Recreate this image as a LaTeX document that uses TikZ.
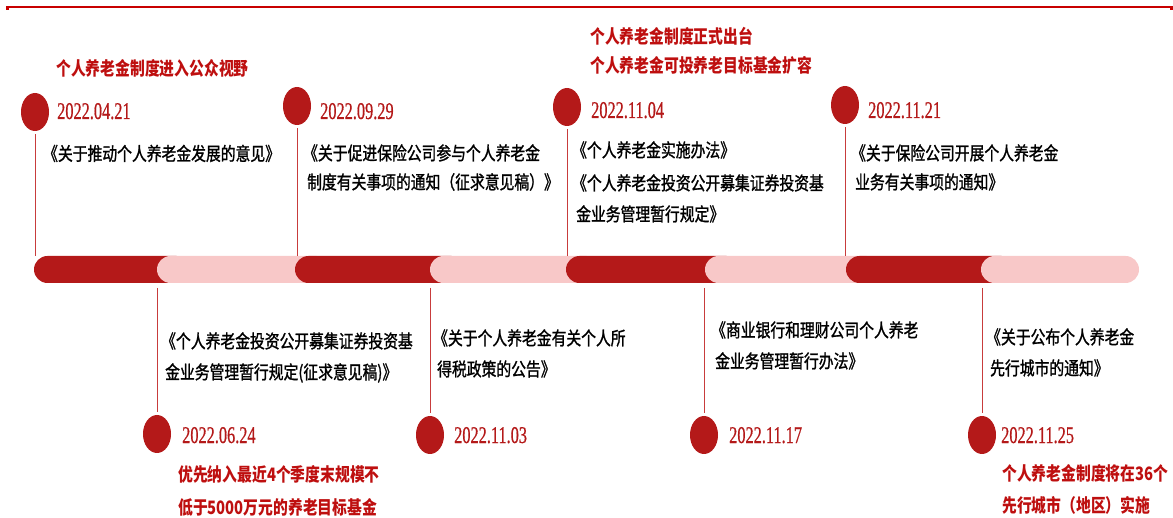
\documentclass[tikz,border=0pt]{standalone}
\usepackage{fontspec}
\usetikzlibrary{shapes.geometric}
\newfontfamily\cjk{Noto Sans CJK SC}[FakeStretch=0.8]
\newfontfamily\cjkblk{Noto Sans CJK SC}[FakeStretch=0.8, FakeBold=1.2]
\newfontfamily\datefont{Liberation Serif}[FakeStretch=0.68, FakeBold=0.6]
\definecolor{darkred}{RGB}{180,25,25}
\definecolor{pinkbar}{RGB}{248,200,200}
\definecolor{headred}{RGB}{190,15,15}
\definecolor{topred}{RGB}{200,0,0}
\definecolor{stemred}{RGB}{200,60,60}
\newcommand{\myopenq}{\hspace*{-4pt}《}
\tikzset{
  evdot/.style={ellipse, fill=darkred, draw=none, minimum width=28pt, minimum height=38pt, inner sep=0pt},
  stemline/.style={draw=stemred, line width=1pt},
  blk/.style={anchor=base west, inner sep=0pt, font=\cjkblk\fontsize{18.5}{22}\selectfont, text=black},
  hred/.style={anchor=base west, inner sep=0pt, font=\cjk\bfseries\fontsize{18.5}{22}\selectfont, text=headred},
  dt/.style={anchor=base west, inner sep=0pt, font=\datefont\fontsize{24}{28}\selectfont, text=darkred},
  seg/.style={rounded corners=13.5pt}
}
\begin{document}
\begin{tikzpicture}[x=1pt,y=-1pt]
\useasboundingbox (0,0) rectangle (1173,518);
% top rule
\draw[topred, line width=2.3pt] (6,7) -- (1173,7);
\fill[topred] (6,6) rectangle (8.7,9.7);
\fill[topred] (1169.5,6) rectangle (1173,9.7);
% bar
\fill[darkred, seg] (34,256) rectangle (190,283);
\fill[pinkbar, seg] (157,256) rectangle (330,283);
\fill[darkred, seg] (295,256) rectangle (465,283);
\fill[pinkbar, seg] (430,256) rectangle (600,283);
\fill[darkred, seg] (566,256) rectangle (740,283);
\fill[pinkbar, seg] (705,256) rectangle (880,283);
\fill[darkred, seg] (846,256) rectangle (1015,283);
\fill[pinkbar, seg] (981,256) rectangle (1139,283);
\coordinate (bartop) at (0,256);
\coordinate (barbot) at (0,288);
% circles
\node[evdot] (c1) at (35,112) {};
\node[evdot] (c2) at (297,106) {};
\node[evdot] (c3) at (567,107) {};
\node[evdot] (c4) at (845,105) {};
\node[evdot] (c5) at (157,434) {};
\node[evdot] (c6) at (430,435) {};
\node[evdot] (c7) at (704,435) {};
\node[evdot] (c8) at (982,435) {};
% stems
\foreach \c in {c1,c2,c3,c4}{\draw[stemline] ([yshift=-3pt]\c.south) -- (\c.south |- bartop);}
\foreach \c in {c5,c6,c7,c8}{\draw[stemline] (\c.north |- barbot) -- ([yshift=3pt]\c.north);}
% dates
\node[dt] (d1) at (57,119) {2022.04.21};
\node[dt] (d2) at (320,119) {2022.09.29};
\node[dt] (d3) at (591,118) {2022.11.04};
\node[dt] (d4) at (868,118) {2022.11.21};
\node[dt] (d5) at (182,443) {2022.06.24};
\node[dt] (d6) at (454,443) {2022.11.03};
\node[dt] (d7) at (729,443) {2022.11.17};
\node[dt] (d8) at (1001,443) {2022.11.25};
% red headings
\node[hred] (h1) at (56,75.5) {个人养老金制度进入公众视野};
\node[hred] (h3a) at (590,44) {个人养老金制度正式出台};
\node[hred] (h3b) at (590,73) {个人养老金可投养老目标基金扩容};
\node[hred] (r1a) at (178,482) {优先纳入最近4个季度末规模不};
\node[hred] (r1b) at (178,514) {低于5000万元的养老目标基金};
\node[hred] (r4a) at (1002,480) {个人养老金制度将在36个};
\node[hred] (r4b) at (1002,512) {先行城市（地区）实施};
% black texts top
\node[blk] (b1) at (47,160.5) {\myopenq 关于推动个人养老金发展的意见》};
\node[blk] (b2a) at (307,160) {\myopenq 关于促进保险公司参与个人养老金};
\node[blk] (b2b) at (307,189) {制度有关事项的通知（征求意见稿）》};
\node[blk] (b3a) at (576,157) {\myopenq 个人养老金实施办法》};
\node[blk] (b3b) at (576,190) {\myopenq 个人养老金投资公开募集证券投资基};
\node[blk] (b3c) at (576,221) {金业务管理暂行规定》};
\node[blk] (b4a) at (855,160) {\myopenq 关于保险公司开展个人养老金};
\node[blk] (b4b) at (855,189) {业务有关事项的通知》};
% black texts bottom
\node[blk] (e1a) at (165,348) {\myopenq 个人养老金投资公开募集证券投资基};
\node[blk] (e1b) at (165,379) {金业务管理暂行规定(征求意见稿)》};
\node[blk] (e2a) at (437,345) {\myopenq 关于个人养老金有关个人所};
\node[blk] (e2b) at (437,376) {得税政策的公告》};
\node[blk] (e3a) at (715,337) {\myopenq 商业银行和理财公司个人养老};
\node[blk] (e3b) at (715,368) {金业务管理暂行办法》};
\node[blk] (e4a) at (990,344) {\myopenq 关于公布个人养老金};
\node[blk] (e4b) at (990,375) {先行城市的通知》};
\end{tikzpicture}
\end{document}
